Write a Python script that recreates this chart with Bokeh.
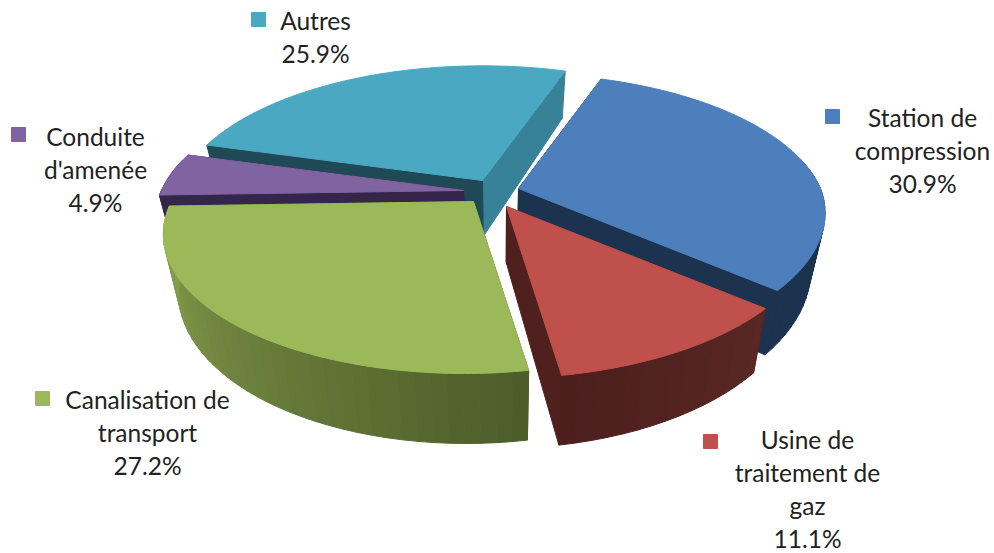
import math
from bokeh.plotting import figure
from bokeh.models import Range1d
from bokeh.core.properties import value
from bokeh.embed import file_html
from bokeh.resources import INLINE

# ---- data (clockwise from the first slice) ----
categories = ["Station de compression", "Usine de traitement de gaz",
              "Canalisation de transport", "Conduite d'amenée", "Autres"]
shares = [30.9, 11.1, 27.2, 4.9, 25.9]
share_labels = ["30.9%", "11.1%", "27.2%", "4.9%", "25.9%"]

# ---- styling ----
top_colors = ["#4c7fbb", "#bf504c", "#9bb958", "#8063a1", "#4aa8c2"]
cut_colors = ["#1c3350", "#4f201e", "#4d5e2a", "#34254a", "#378299"]
cut2_colors = ["#1c3350", "#4f201e", "#4d5e2a", "#34254a", "#1f4a55"]
wall_stops = [("#1c3350", "#1c3350"), ("#4b1f1d", "#5a2724"), ("#8ba550", "#4b5c29"),
              ("#34254a", "#34254a"), ("#1f4a55", "#1f4a55")]
apexes = [(518, 188), (506, 206), (473, 201), (463, 190), (482, 180)]
draw_order = [4, 3, 2, 0, 1]

START_DEG = 71.0
RX, RY, K = 302.0, 137.6, 0.2
DEPTH, VX, SHRINK = 56.0, 500.0, 0.955
FRONT_SHEAR = 9.0

label_lines = [["Station de", "compression"], ["Usine de", "traitement de", "gaz"],
               ["Canalisation de", "transport"], ["Conduite", "d'amenée"], ["Autres"]]
label_x = [922, 807, 147, 95, 315]
label_y = [116.5, 439, 398.5, 135.5, 19.5]
label_step = 33
swatch_xy = [(832, 116), (710, 441), (42, 398), (18, 134), (258, 19)]


def top_pt(apex, deg):
    u, v = math.cos(math.radians(deg)), math.sin(math.radians(deg))
    f = 1.0 / (1.0 + K * v)
    return (apex[0] + RX * u * f + FRONT_SHEAR * min(v, 0.0), apex[1] - RY * v * f)


def depth_at(apex, deg):
    return DEPTH / (1.0 + K * math.sin(math.radians(deg)))


def bottom_pt(apex, deg, r=1.0):
    x, y = top_pt(apex, deg) if r else apex
    d = depth_at(apex, deg) if r else DEPTH
    return (VX + (x - VX) * SHRINK, y + d)


def mix(c1, c2, t):
    a = [int(c1[i:i + 2], 16) for i in (1, 3, 5)]
    b = [int(c2[i:i + 2], 16) for i in (1, 3, 5)]
    return "#%02x%02x%02x" % tuple(round(p + (q - p) * t) for p, q in zip(a, b))


p = figure(width=994, height=553, x_range=Range1d(0, 994), y_range=Range1d(553, 0),
           toolbar_location=None, output_backend="svg", min_border=0)
p.axis.visible = False
p.grid.visible = False
p.outline_line_color = None
p.background_fill_color = "white"

# slice angle spans, from the shares
total = sum(shares)
spans = []
a = START_DEG
for s in shares:
    b = a - 360.0 * s / total
    spans.append((a, b))
    a = b


def add_poly(pts, color):
    p.patch([q[0] for q in pts], [q[1] for q in pts], fill_color=color, line_color=color, line_width=1)


for i in draw_order:
    apex = apexes[i]
    a0, a1 = spans[i]
    ab = bottom_pt(apex, 0, 0)
    # cut faces: end edge first, then start edge
    add_poly([apex, top_pt(apex, a1), bottom_pt(apex, a1), ab], cut_colors[i])
    add_poly([apex, top_pt(apex, a0), bottom_pt(apex, a0), ab], cut2_colors[i])
    # outer wall as shaded strips, only the part that faces the viewer
    n = max(4, int(abs(a0 - a1) / 2.5))
    angs = [a0 + (a1 - a0) * k / n for k in range(n + 1)]
    xs, ys, cols = [], [], []
    for k in range(n):
        if math.sin(math.radians(angs[k])) > 0.2 and math.sin(math.radians(angs[k + 1])) > 0.2:
            continue
        q = [top_pt(apex, angs[k]), top_pt(apex, angs[k + 1]),
             bottom_pt(apex, angs[k + 1]), bottom_pt(apex, angs[k])]
        xs.append([c[0] for c in q])
        ys.append([c[1] for c in q])
        # shading runs from the slice's clockwise end to its other end
        cols.append(mix(wall_stops[i][0], wall_stops[i][1], 1 - (k + 0.5) / n))
    if xs:
        p.patches(xs, ys, fill_color=cols, line_color=cols, line_width=1)
    # top face
    m = 90
    arc = [top_pt(apex, a0 + (a1 - a0) * k / m) for k in range(m + 1)]
    add_poly([apex] + arc, top_colors[i])

# labels
for i, cat in enumerate(categories):
    lines = label_lines[i] + [share_labels[i]]
    ys = [label_y[i] + label_step * k for k in range(len(lines))]
    p.text([label_x[i]] * len(lines), ys, text=lines, text_font=value("Lato"),
           text_font_size="24.5px", text_color="#222222", text_align="center", text_baseline="middle")
    sx, sy = swatch_xy[i]
    p.rect([sx], [sy], width=14, height=14, fill_color=top_colors[i], line_color=top_colors[i])

open("out.html", "w").write(file_html(p, INLINE))
